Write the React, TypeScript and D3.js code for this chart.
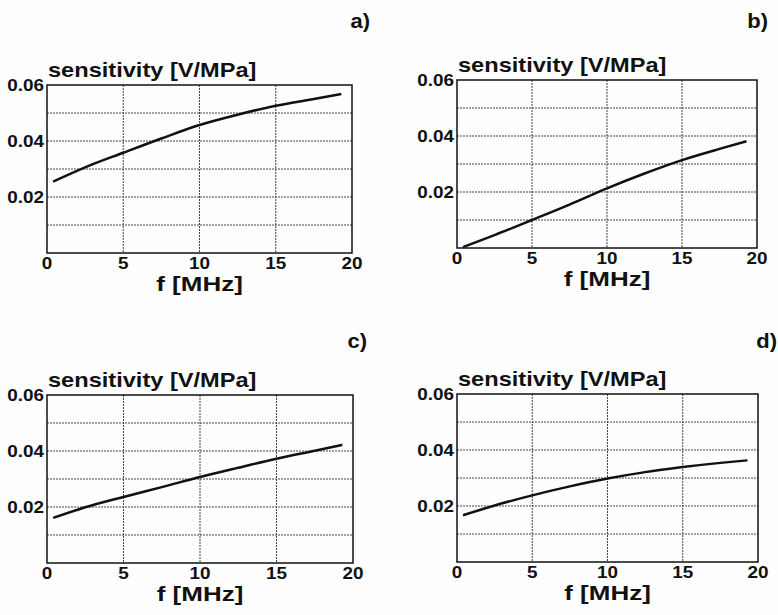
import React from "react";
import * as d3 from "d3";

// frequency samples [MHz]
const freqs = [0.4, 2.5, 5, 7.5, 10, 12.5, 15, 17.5, 19.3];

// sensitivity [V/MPa] per panel
const sensA = [0.0255, 0.0306, 0.0358, 0.0409, 0.0457, 0.0494, 0.0526, 0.055, 0.0568];
const sensB = [0.0003, 0.0046, 0.01, 0.0155, 0.0213, 0.0266, 0.0314, 0.0354, 0.0381];
const sensC = [0.0161, 0.0199, 0.0236, 0.0271, 0.0307, 0.034, 0.0372, 0.0401, 0.0422];
const sensD = [0.0167, 0.0202, 0.0238, 0.027, 0.0298, 0.0321, 0.0339, 0.0354, 0.0363];

const panelLetters = ["a)", "b)", "c)", "d)"];
const xTicks = [0, 5, 10, 15, 20];
const yTicks = [0.02, 0.04, 0.06];
const yGrid = [0.01, 0.02, 0.03, 0.04, 0.05];
const xGrid = [5, 10, 15];

const yTitle = "sensitivity [V/MPa]";
const xTitle = "f [MHz]";

const FONT = "'Liberation Sans', Arial, Helvetica, sans-serif";

// plot boxes (left, right, top, bottom) and panel-letter anchor
const layout = [
  { x0: 47, x1: 352, top: 85, bottom: 253, lx: 370, ly: 28 },
  { x0: 457, x1: 757, top: 80, bottom: 248, lx: 768, ly: 28 },
  { x0: 47, x1: 353, top: 395, bottom: 563, lx: 367, ly: 348 },
  { x0: 457, x1: 758, top: 394, bottom: 562, lx: 777, ly: 348 },
];

const series = [sensA, sensB, sensC, sensD];

// scanned lettering is wider than Arial, so stretch it sideways
const Wide = ({ x, y, size, anchor = "start", k = 1.2, children }) => (
  <text
    transform={`translate(${x},${y}) scale(${k},1)`}
    textAnchor={anchor}
    fontFamily={FONT}
    fontWeight="bold"
    fontSize={size}
    fill="#111"
  >
    {children}
  </text>
);

const Panel = ({ box, values, letter }) => {
  const x = d3.scaleLinear().domain([0, 20]).range([box.x0, box.x1]);
  const y = d3.scaleLinear().domain([0, 0.06]).range([box.bottom, box.top]);
  const fmt = d3.format(".2f");

  const line = d3
    .line<number>()
    .x((_, i) => x(freqs[i]))
    .y((d) => y(d))
    .curve(d3.curveMonotoneX);

  return (
    <g>
      {/* grid */}
      {yGrid.map((v) => (
        <line
          key={"h" + v}
          x1={box.x0}
          x2={box.x1}
          y1={y(v)}
          y2={y(v)}
          stroke="#444"
          strokeWidth={1}
          strokeDasharray="2,1"
        />
      ))}
      {xGrid.map((v) => (
        <line
          key={"v" + v}
          x1={x(v)}
          x2={x(v)}
          y1={box.top}
          y2={box.bottom}
          stroke="#444"
          strokeWidth={1}
          strokeDasharray="2,1"
        />
      ))}

      {/* frame */}
      <rect
        x={box.x0}
        y={box.top}
        width={box.x1 - box.x0}
        height={box.bottom - box.top}
        fill="none"
        stroke="#111"
        strokeWidth={1.5}
      />

      {/* curve */}
      <path d={line(values) || ""} fill="none" stroke="#111" strokeWidth={2.5} />

      {/* tick labels */}
      {yTicks.map((v) => (
        <Wide key={"yt" + v} x={box.x0 - 3} y={y(v) + 6} size={16} anchor="end" k={1.18}>
          {fmt(v)}
        </Wide>
      ))}
      {xTicks.map((v) => (
        <Wide key={"xt" + v} x={x(v)} y={box.bottom + 16} size={16} anchor="middle" k={1.18}>
          {v}
        </Wide>
      ))}

      {/* titles */}
      <Wide x={box.x0 + 1} y={box.top - 8} size={20} k={1.18}>
        {yTitle}
      </Wide>
      <Wide x={(box.x0 + box.x1) / 2} y={box.bottom + 38} size={20} anchor="middle" k={1.3}>
        {xTitle}
      </Wide>
      <Wide x={box.lx} y={box.ly} size={20} anchor="end" k={1.1}>
        {letter}
      </Wide>
    </g>
  );
};

export default function App() {
  return (
    <svg
      width={778}
      height={615}
      style={{ position: "absolute", left: 0, top: 0, background: "#fff" }}
    >
      <rect width={778} height={615} fill="#fefefe" />
      {layout.map((box, i) => (
        <Panel key={i} box={box} values={series[i]} letter={panelLetters[i]} />
      ))}
    </svg>
  );
}
